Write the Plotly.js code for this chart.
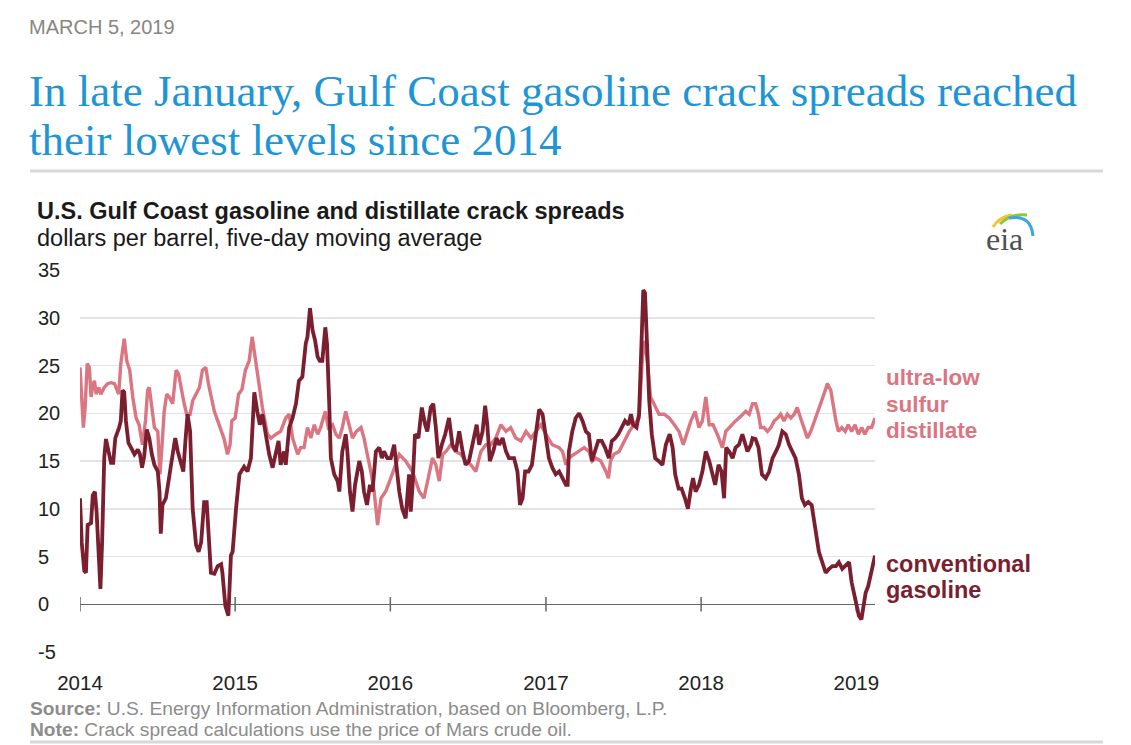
<!DOCTYPE html>
<html>
<head>
<meta charset="utf-8">
<script src="https://cdn.plot.ly/plotly-3.0.1.min.js"></script>
<style>
  html, body { margin: 0; padding: 0; background: #ffffff; }
  #chart { width: 1131px; height: 745px; }
</style>
</head>
<body>
<div id="chart"></div>
<script>
// ---------------- DATA ----------------
const gasDates = [
 '2014-01-01','2014-01-05','2014-01-11','2014-01-15','2014-01-19','2014-01-27','2014-01-31','2014-02-05','2014-02-09','2014-02-13',
 '2014-02-18','2014-02-22','2014-02-27','2014-03-03','2014-03-09','2014-03-15','2014-03-20','2014-03-25','2014-04-03','2014-04-07',
 '2014-04-11','2014-04-15','2014-04-19','2014-04-25','2014-05-01','2014-05-09','2014-05-17','2014-05-22','2014-05-27','2014-06-01',
 '2014-06-07','2014-06-13','2014-06-19','2014-06-25','2014-07-03','2014-07-07','2014-07-10','2014-07-14','2014-07-22','2014-07-30',
 '2014-08-07','2014-08-13','2014-08-19','2014-08-26','2014-09-01','2014-09-06','2014-09-11','2014-09-17','2014-09-23','2014-10-01',
 '2014-10-07','2014-10-13','2014-10-20','2014-10-26','2014-11-01','2014-11-05','2014-11-13','2014-11-21','2014-11-29','2014-12-02',
 '2014-12-09','2014-12-16','2014-12-22','2014-12-26','2015-01-03','2015-01-11','2015-01-22','2015-01-30','2015-02-07','2015-02-15',
 '2015-02-22','2015-02-28','2015-03-06','2015-03-14','2015-03-22','2015-03-30','2015-04-07','2015-04-13','2015-04-18','2015-04-26',
 '2015-04-30','2015-05-08','2015-05-16','2015-05-24','2015-05-31','2015-06-08','2015-06-16','2015-06-20','2015-06-26','2015-07-02',
 '2015-07-08','2015-07-14','2015-07-19','2015-07-25','2015-08-01','2015-08-05','2015-08-10','2015-08-14','2015-08-22','2015-08-30',
 '2015-09-03','2015-09-10','2015-09-18','2015-09-22','2015-09-28','2015-10-04','2015-10-10','2015-10-20','2015-10-26','2015-10-31',
 '2015-11-07','2015-11-14','2015-11-20','2015-11-28','2015-12-06','2015-12-12','2015-12-17','2015-12-25','2016-01-02','2016-01-10',
 '2016-01-15','2016-01-22','2016-01-29','2016-02-06','2016-02-14','2016-02-18','2016-02-22','2016-02-28','2016-03-07','2016-03-15',
 '2016-03-23','2016-03-28','2016-04-05','2016-04-11','2016-04-17','2016-04-23','2016-05-01','2016-05-09','2016-05-18','2016-05-26',
 '2016-06-03','2016-06-11','2016-06-19','2016-06-26','2016-07-04','2016-07-12','2016-07-22','2016-07-28','2016-08-05','2016-08-11',
 '2016-08-16','2016-08-22','2016-08-30','2016-09-07','2016-09-13','2016-09-21','2016-09-29','2016-10-06','2016-10-18','2016-10-26',
 '2016-11-01','2016-11-07','2016-11-13','2016-11-21','2016-11-29','2016-12-07','2016-12-16','2016-12-24','2017-01-01','2017-01-08',
 '2017-01-16','2017-01-24','2017-02-01','2017-02-09','2017-02-17','2017-02-21','2017-02-24','2017-03-04','2017-03-12','2017-03-20',
 '2017-03-28','2017-04-05','2017-04-12','2017-04-19','2017-04-27','2017-05-04','2017-05-12','2017-05-20','2017-05-29','2017-06-05',
 '2017-06-13','2017-06-20','2017-06-28','2017-07-06','2017-07-14','2017-07-20','2017-07-25','2017-08-02','2017-08-08','2017-08-13',
 '2017-08-18','2017-08-22','2017-08-26','2017-09-01','2017-09-07','2017-09-15','2017-09-23','2017-10-02','2017-10-10','2017-10-19',
 '2017-10-26','2017-11-01','2017-11-09','2017-11-16','2017-11-24','2017-12-01','2017-12-08','2017-12-13','2017-12-19','2017-12-27',
 '2018-01-04','2018-01-12','2018-01-20','2018-01-28','2018-02-03','2018-02-11','2018-02-18','2018-02-24','2018-03-01','2018-03-08',
 '2018-03-16','2018-03-23','2018-03-31','2018-04-08','2018-04-14','2018-04-20','2018-04-28','2018-05-02','2018-05-09','2018-05-16',
 '2018-05-24','2018-06-02','2018-06-10','2018-06-18','2018-06-26','2018-07-03','2018-07-11','2018-07-19','2018-07-27','2018-08-04',
 '2018-08-11','2018-08-19','2018-08-26','2018-09-02','2018-09-10','2018-09-18','2018-09-24','2018-09-29','2018-10-05','2018-10-13',
 '2018-10-21','2018-10-29','2018-11-06','2018-11-14','2018-11-21','2018-11-29','2018-12-07','2018-12-15','2018-12-21','2018-12-27',
 '2019-01-01','2019-01-07','2019-01-13','2019-01-17','2019-01-23','2019-01-29','2019-02-04','2019-02-09','2019-02-14'
];
const gasValues = [
 11.1,6.5,3.5,3.3,8.3,8.5,11.4,11.8,9.7,6.5,
 1.6,6.5,15.3,17.3,16,14.8,14.8,17.4,18.5,19.2,
 22.4,22.2,19.2,16.9,16.4,15.7,16.2,15.7,14.3,15.5,
 18.3,17.4,15.7,14.6,13.9,11.8,7.4,10.4,11.1,13.2,
 15.3,17.4,16,15,13.9,17.1,19.9,18.1,10,6.2,
 5.5,6.5,10.7,10.7,6.5,3.3,3.2,4,4.2,3.3,
 -0.2,-1.2,5.1,5.5,10,13.6,14.4,13.9,15.3,22.2,
 20.2,18.8,19.9,17.8,15.7,14.3,15.7,17.1,14.6,16,
 14.6,18.5,19.5,21,23.4,23.8,27.3,28,31,28.7,
 27.6,25.9,25.5,25.5,29,27.3,21.3,15.3,13.6,12.9,
 11.8,16,17.8,16,11.8,9.7,12.5,15,13.9,11.8,
 10.4,12.5,11.8,16,16.4,15.3,16,15.3,15.3,16.7,
 14.6,11.8,10,9,13.6,9.7,12.3,17.8,17.4,20.6,
 18.8,18.1,20.6,21,18.5,15.3,16.7,17.8,19.5,16.7,
 16,18.1,16,14.6,15,16.7,18.8,16.7,18.1,20.8,
 18.8,15,16,17.4,16.7,17.4,16,15.3,15.3,13.9,
 10.4,11.1,13.9,13.9,14.6,17.4,20.4,19.9,17.4,15.3,
 14.3,13.6,13.9,13.2,12.5,12.5,16,18.1,19.5,20,
 19.2,18.1,17.8,15,16,17.1,17.1,16.4,15.3,17.1,
 17.4,17.8,18.5,19.2,18.8,19.9,18.8,18.5,19.9,25.9,
 32.9,32.6,27.3,21.3,17.8,15.3,15,14.6,16.7,17.8,
 16.4,13.6,12.1,12.1,11.1,10,12.1,13.2,11.8,12.5,
 13.9,16,15,13.6,12.5,14.6,13.9,11.1,16.4,16,
 15.3,16.4,16.7,17.8,16.7,16,16.7,17.4,17.3,16.4,
 13.6,13.2,13.9,15.3,16,16.7,18.1,17.8,16.7,16,
 15.3,13.6,11.1,10.4,10.7,10.4,8.6,6.9,5.5,4.4,
 3.3,3.7,4,4,4.4,3.7,4,4.4,2.3,0.9,
 0.2,-1.2,-1.6,-0.2,1.2,1.9,3,4,5.1
];

const ulsdDates = [
 '2014-01-01','2014-01-05','2014-01-09','2014-01-13','2014-01-18','2014-01-23','2014-01-27','2014-01-31','2014-02-04','2014-02-08',
 '2014-02-14','2014-02-19','2014-02-27','2014-03-07','2014-03-15','2014-03-23','2014-04-02','2014-04-07','2014-04-15','2014-04-21',
 '2014-04-28','2014-05-05','2014-05-13','2014-05-20','2014-05-28','2014-06-04','2014-06-09','2014-06-13','2014-06-19','2014-06-25',
 '2014-07-03','2014-07-08','2014-07-13','2014-07-18','2014-07-24','2014-07-30','2014-08-07','2014-08-15','2014-08-21','2014-08-26',
 '2014-09-03','2014-09-09','2014-09-17','2014-09-23','2014-10-01','2014-10-09','2014-10-16','2014-10-24','2014-10-30','2014-11-05',
 '2014-11-13','2014-11-21','2014-11-29','2014-12-06','2014-12-14','2014-12-20','2014-12-24','2015-01-01','2015-01-09','2015-01-17',
 '2015-01-25','2015-02-03','2015-02-10','2015-02-17','2015-02-24','2015-03-06','2015-03-18','2015-03-26','2015-04-07','2015-04-18',
 '2015-04-30','2015-05-08','2015-05-16','2015-05-28','2015-06-04','2015-06-12','2015-06-20','2015-06-28','2015-07-06','2015-07-14',
 '2015-07-21','2015-08-01','2015-08-08','2015-08-18','2015-08-26','2015-09-03','2015-09-10','2015-09-18','2015-09-26','2015-10-04',
 '2015-10-13','2015-10-24','2015-10-31','2015-11-08','2015-11-16','2015-11-24','2015-11-28','2015-12-02','2015-12-10','2015-12-21',
 '2016-01-02','2016-01-14','2016-01-22','2016-02-06','2016-02-22','2016-03-09','2016-03-20','2016-04-01','2016-04-09','2016-04-17',
 '2016-04-25','2016-05-03','2016-05-11','2016-05-22','2016-06-03','2016-06-15','2016-06-26','2016-07-08','2016-07-20','2016-08-01',
 '2016-08-13','2016-08-24','2016-09-05','2016-09-17','2016-09-29','2016-10-10','2016-10-22','2016-11-03','2016-11-15','2016-11-27',
 '2016-12-08','2016-12-20','2017-01-01','2017-01-16','2017-02-01','2017-02-09','2017-02-17','2017-02-24','2017-03-08','2017-03-20',
 '2017-04-01','2017-04-12','2017-04-20','2017-04-28','2017-05-10','2017-05-22','2017-05-28','2017-06-02','2017-06-10','2017-06-22',
 '2017-07-04','2017-07-16','2017-07-27','2017-08-08','2017-08-16','2017-08-22','2017-08-28','2017-09-04','2017-09-12','2017-09-24',
 '2017-10-06','2017-10-18','2017-10-30','2017-11-10','2017-11-20','2017-11-30','2017-12-08','2017-12-18','2017-12-27','2018-01-04',
 '2018-01-12','2018-01-20','2018-01-29','2018-02-08','2018-02-12','2018-02-20','2018-02-28','2018-03-08','2018-03-16','2018-03-23',
 '2018-03-31','2018-04-08','2018-04-16','2018-04-24','2018-05-02','2018-05-09','2018-05-16','2018-05-21','2018-05-29','2018-06-06',
 '2018-06-14','2018-06-22','2018-06-30','2018-07-07','2018-07-15','2018-07-23','2018-07-31','2018-08-08','2018-08-15','2018-08-23',
 '2018-08-31','2018-09-08','2018-09-16','2018-09-24','2018-10-01','2018-10-09','2018-10-17','2018-10-25','2018-11-02','2018-11-07',
 '2018-11-14','2018-11-20','2018-11-28','2018-12-06','2018-12-13','2018-12-21','2018-12-29','2019-01-06','2019-01-14','2019-01-21',
 '2019-01-29','2019-02-06','2019-02-14'
];
const ulsdValues = [
 24.8,21.7,18.5,20.6,25.2,24.8,21.7,22.9,23.4,22,
 22.7,22,22.7,23.1,23.2,23.1,22,25.2,27.8,25.5,
 24.5,21.7,19.5,18.8,16.7,19.2,22.4,22.7,20.6,18.5,
 18.1,13.6,16.7,20.2,22,21.7,21,24.5,24.1,22.7,
 21,19.9,19.9,21.3,22,22.7,24.5,24.8,23.1,21.7,
 20.2,19.2,18.1,17.3,15.7,16.7,19.2,19.5,22,22.5,
 24.5,25.5,28,26,23.5,20.6,17.8,17.4,17.8,18.1,
 19.5,19.9,17.4,15.7,16.4,16.4,18.5,17.4,18.8,17.8,
 18.5,20.2,18.5,18.8,17.8,17.4,18.5,20.2,18.8,17.4,
 18.1,18.5,17.4,15.7,13.9,11.8,9.7,8.3,11.1,11.8,
 13.2,14.6,15.7,15,13.9,11.8,11.1,13.6,15.3,14.6,
 12.9,15.7,16,16.7,16,15.7,15,14.6,13.9,16,
 16.7,16.7,17.4,18.8,18.1,18.5,17.4,17.1,18.1,17.4,
 18.1,18.8,17.8,16.7,16.4,16,14.6,15.3,15.7,16,
 16.4,16,15,15.3,15,13.9,13.2,15,15.7,16,
 17.1,18.1,18.8,19.5,25.9,27.6,25.2,21.7,21,19.9,
 19.9,19.5,18.8,18.1,16.7,18.1,19.2,20.2,18.5,19.2,
 21.7,18.8,18.8,17.8,17.4,16.4,18.1,18.5,18.8,19.2,
 19.5,19.9,20.2,19.9,21,21,19.9,18.5,18.5,18.1,
 18.5,19.2,19.5,19.9,19.2,19.9,19.5,19.9,20.6,19.5,
 18.5,17.4,18.1,19.2,19.9,21,22,23.1,22.4,21,
 19.2,18.1,18.5,18.1,18.8,18.1,18.8,17.8,18.5,17.8,
 18.5,18.5,19.5
];

const yearTicks = ['2014-01-01','2015-01-01','2016-01-01','2017-01-01','2018-01-01','2019-01-01'];
const yearLabels = ['2014','2015','2016','2017','2018','2019'];
const yTickValues = [-5, 0, 5, 10, 15, 20, 25, 30, 35];
const yTickLabels = ['-5','0','5','10','15','20','25','30','35'];

// ---------------- LAYOUT HELPERS ----------------
const W = 1131, Hh = 745;
const L = 80, R = 875, T = 270, B = 652;
const X = px => (px - L) / (R - L);
const Y = py => (B - py) / (B - T);

const SANS = 'Liberation Sans, Arial, Helvetica, sans-serif';
const SERIF = 'Liberation Serif, Times New Roman, serif';
const GAS = '#7b1e2f';
const ULSD = '#db7582';
const BLUE = '#1e95d6';

function ann(text, px, py, size, color, opts) {
  return Object.assign({
    text: text, xref: 'paper', yref: 'paper', x: X(px), y: Y(py),
    xanchor: 'left', yanchor: 'middle', showarrow: false,
    font: { family: SANS, size: size, color: color }
  }, opts || {});
}

const annotations = [
  ann('MARCH 5, 2019', 27, 27, 20, '#8a8580'),
  ann('In late January, Gulf Coast gasoline crack spreads reached', 27, 90.5, 45, BLUE, { font: { family: SERIF, size: 45, color: BLUE } }),
  ann('their lowest levels since 2014', 27, 140.5, 45, BLUE, { font: { family: SERIF, size: 45, color: BLUE } }),
  ann('<b>U.S. Gulf Coast gasoline and distillate crack spreads</b>', 35, 211, 23.5, '#1a1a1a'),
  ann('dollars per barrel, five-day moving average', 35, 238, 23.5, '#1a1a1a'),
  ann('eia', 984, 239, 32, '#505050', { font: { family: SERIF, size: 32, color: '#505050' } }),
  ann('<b>ultra-low</b>', 884, 377, 22.5, ULSD),
  ann('<b>sulfur</b>', 884, 404, 22.5, ULSD),
  ann('<b>distillate</b>', 884, 430, 22.5, ULSD),
  ann('<b>conventional</b>', 884, 564, 23.5, GAS),
  ann('<b>gasoline</b>', 884, 590, 23.5, GAS),
  ann('<b>Source:</b> U.S. Energy Information Administration, based on Bloomberg, L.P.', 28, 708, 19.2, '#8c8c8c'),
  ann('<b>Note:</b> Crack spread calculations use the price of Mars crude oil.', 28, 729, 19.2, '#8c8c8c')
];

// y tick labels, left aligned as in the reference
yTickValues.forEach((v, i) => {
  annotations.push({
    text: yTickLabels[i], xref: 'paper', yref: 'y', x: X(36), y: v,
    xanchor: 'left', yanchor: 'middle', showarrow: false,
    font: { family: SANS, size: 20, color: '#222' }
  });
});

const shapes = [
  { type: 'line', xref: 'paper', yref: 'paper', x0: X(30), x1: X(1103), y0: Y(171), y1: Y(171), line: { color: '#d8d8d8', width: 3 } },
  { type: 'line', xref: 'paper', yref: 'paper', x0: X(30), x1: X(1103), y0: Y(742), y1: Y(742), line: { color: '#d8d8d8', width: 3 } },
  { type: 'path', xref: 'paper', yref: 'paper', path: `M ${X(993)} ${Y(227)} Q ${X(999)} ${Y(217)} ${X(1012)} ${Y(215)}`, line: { color: '#f3c331', width: 3 } },
  { type: 'path', xref: 'paper', yref: 'paper', path: `M ${X(1000)} ${Y(224)} Q ${X(1011)} ${Y(213)} ${X(1027)} ${Y(215)}`, line: { color: '#8dc540', width: 3 } },
  { type: 'path', xref: 'paper', yref: 'paper', path: `M ${X(1009)} ${Y(218)} Q ${X(1031)} ${Y(214)} ${X(1033)} ${Y(236)}`, line: { color: '#3aa7de', width: 3 } }
];
yearTicks.forEach(d => {
  shapes.push({ type: 'line', xref: 'x', yref: 'y', x0: d, x1: d, y0: -0.75, y1: 0.75, line: { color: '#666', width: 1.5 }, layer: 'below' });
});

const traces = [
  { type: 'scatter', mode: 'lines', name: 'ultra-low sulfur distillate', x: ulsdDates, y: ulsdValues,
    line: { color: ULSD, width: 3.4 }, hoverinfo: 'x+y' },
  { type: 'scatter', mode: 'lines', name: 'conventional gasoline', x: gasDates, y: gasValues,
    line: { color: GAS, width: 3.8 }, hoverinfo: 'x+y' }
];

const layout = {
  width: W, height: Hh,
  margin: { l: L, r: W - R, t: T, b: Hh - B, pad: 0 },
  paper_bgcolor: '#ffffff', plot_bgcolor: '#ffffff',
  showlegend: false,
  font: { family: SANS, size: 20, color: '#222' },
  xaxis: {
    type: 'date', range: ['2014-01-01', '2019-02-14'],
    tickvals: yearTicks, ticktext: yearLabels,
    showgrid: false, zeroline: false, showline: false, ticks: '',
    tickfont: { family: SANS, size: 20.5, color: '#222' },
    ticklabelstandoff: 16, fixedrange: true
  },
  yaxis: {
    range: [-5, 35], tickvals: yTickValues, showticklabels: false, ticks: '',
    showgrid: true, gridcolor: '#e3e3e3', gridwidth: 1.5,
    zeroline: true, zerolinecolor: '#666', zerolinewidth: 1.5,
    showline: false, fixedrange: true
  },
  annotations: annotations,
  shapes: shapes
};

Plotly.newPlot('chart', traces, layout, { displayModeBar: false, staticPlot: true });
</script>
</body>
</html>
